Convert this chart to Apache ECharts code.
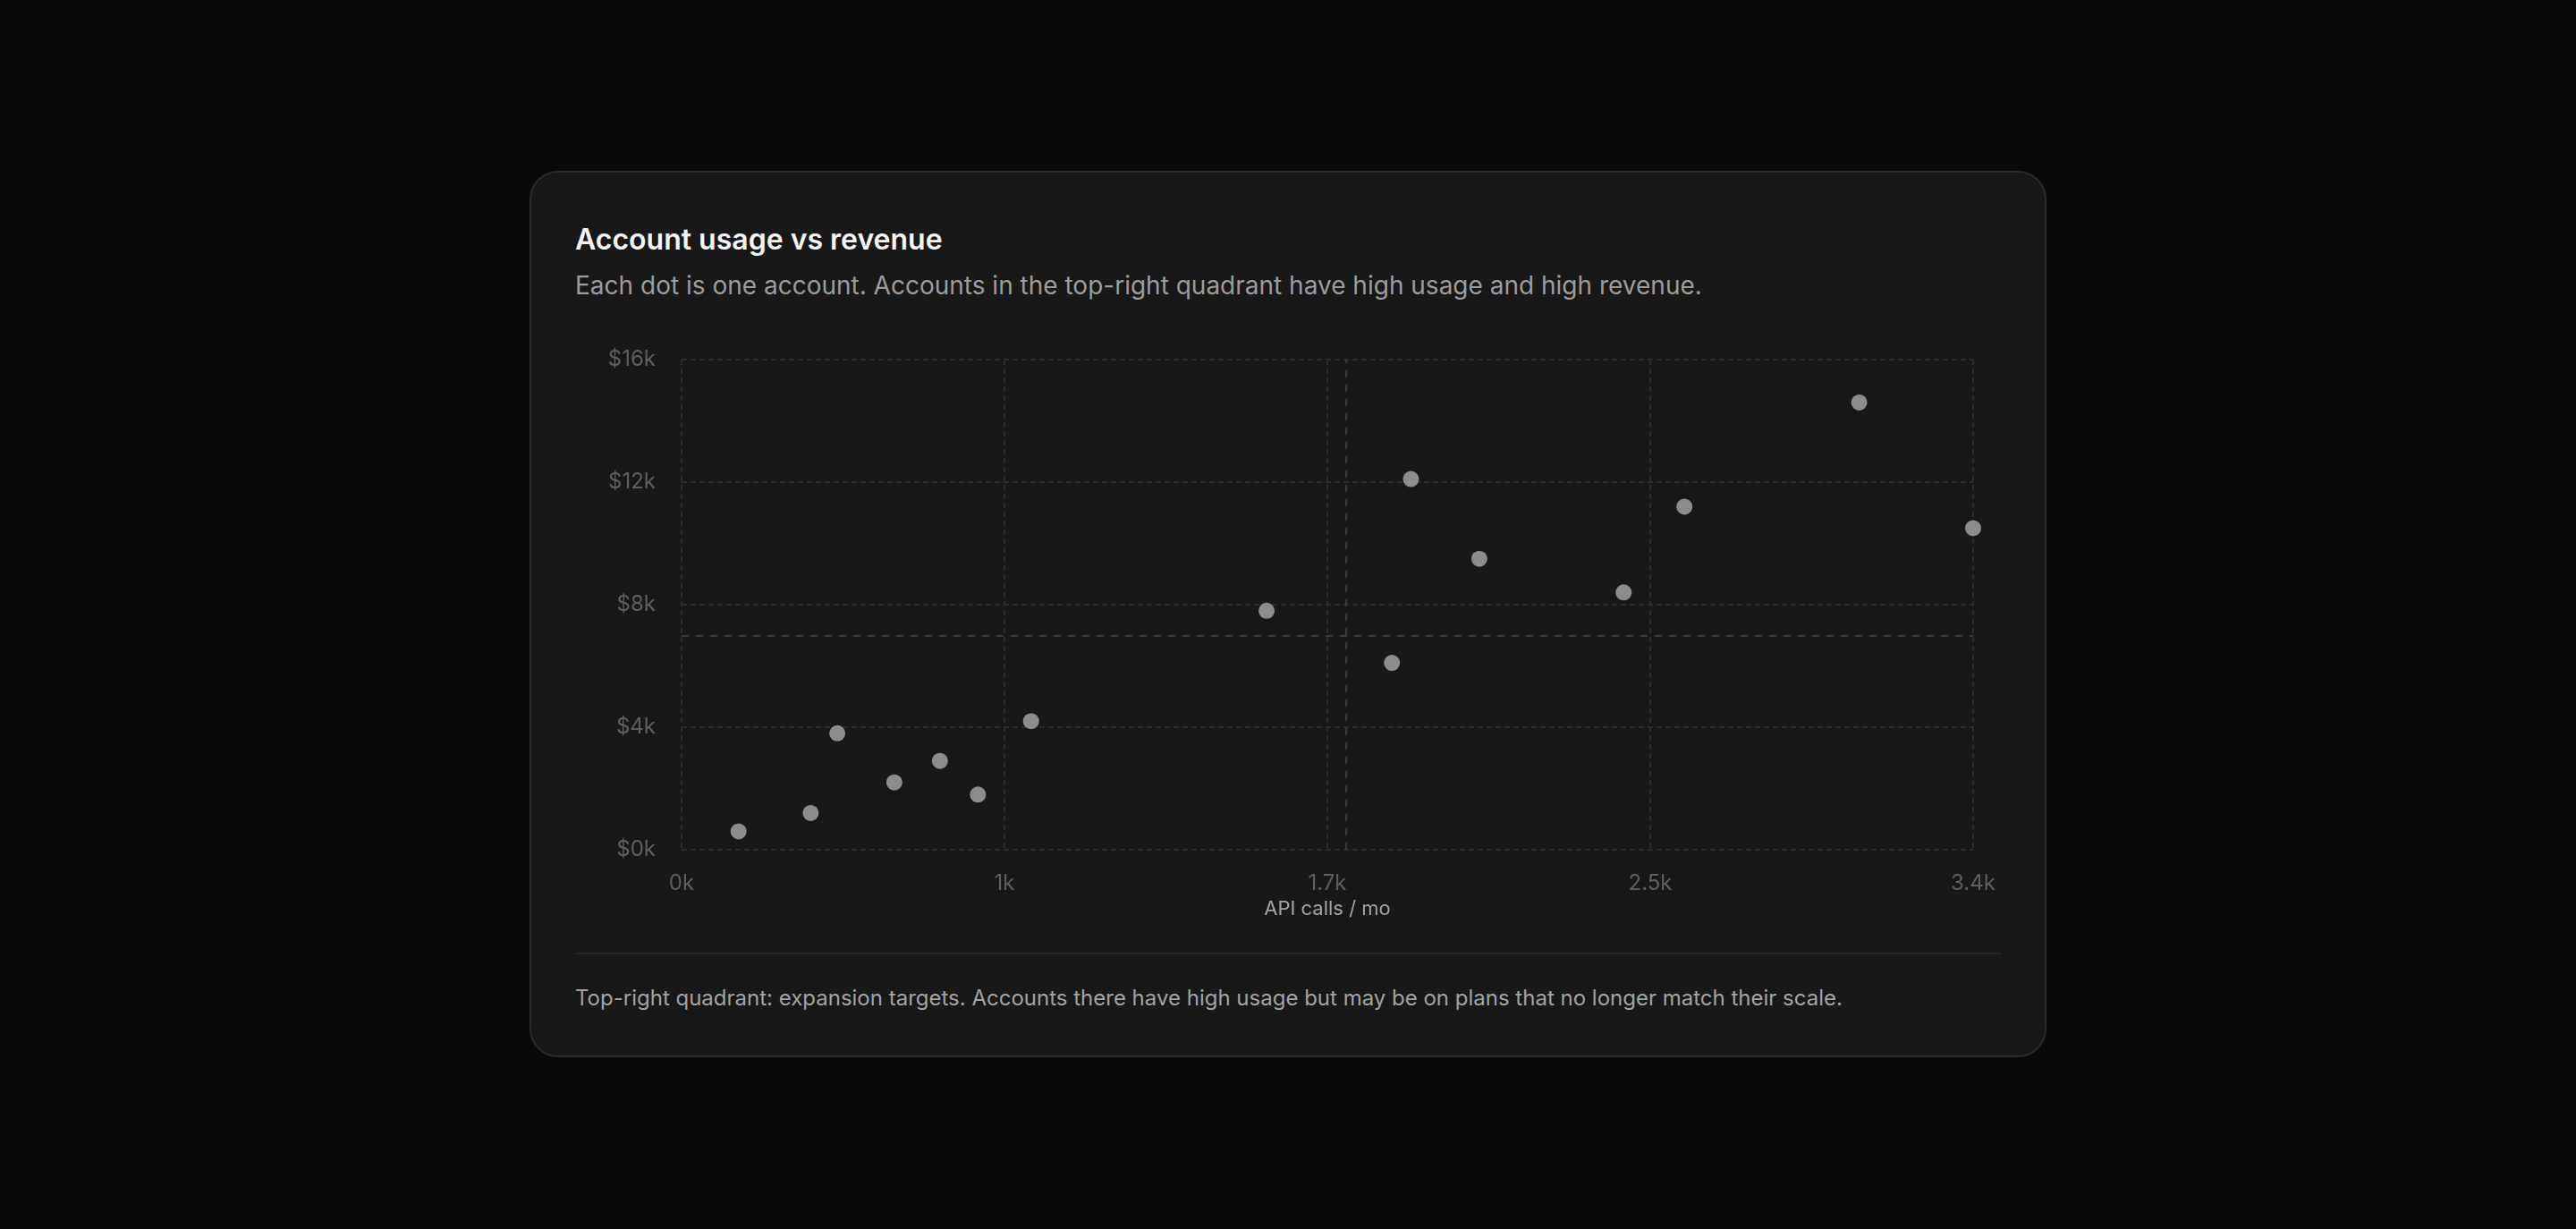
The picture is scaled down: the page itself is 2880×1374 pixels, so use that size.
<!DOCTYPE html>
<html lang="en">
<head>
    <meta charset="UTF-8">
    <title>Account usage vs revenue</title>
    <script type="text/javascript" src="https://cdn.jsdelivr.net/npm/echarts@6/dist/echarts.min.js"></script>
    <style>
        html, body { margin: 0; padding: 0; background: #0a0a0a; }
        body { width: 2880px; height: 1374px; position: relative; font-family: Inter, "Noto Sans", sans-serif; }
        .card {
            position: absolute; left: 592px; top: 191px; width: 1696px; height: 991px;
            box-sizing: border-box; border: 2px solid #2a2a2a; border-radius: 32px; background: #181818;
        }
        .title { position: absolute; left: 49px; top: 59px; font-size: 32px; line-height: 1; font-weight: 600; color: #f5f5f5; white-space: nowrap; }
        .sub { position: absolute; left: 49px; top: 112px; font-size: 28px; line-height: 1; color: #9c9c9c; white-space: nowrap; }
        #chart { position: absolute; left: 48px; top: 177px; width: 1596px; height: 670px; }
        .divider { position: absolute; left: 49px; top: 872px; width: 1595px; height: 2px; background: #262626; }
        .foot { position: absolute; left: 49px; top: 911px; font-size: 24px; line-height: 1; color: #a3a3a3; white-space: nowrap; }
    </style>
</head>
<body>
<div class="card">
    <div class="title">Account usage vs revenue</div>
    <div class="sub">Each dot is one account. Accounts in the top-right quadrant have high usage and high revenue.</div>
    <div id="chart"></div>
    <div class="divider"></div>
    <div class="foot">Top-right quadrant: expansion targets. Accounts there have high usage but may be on plans that no longer match their scale.</div>
</div>
<script type="text/javascript">
    // one entry per account
    var apiCalls = [150, 340, 410, 560, 680, 780, 920, 1540, 1870, 1920, 2100, 2480, 2640, 3100, 3400];
    var revenue  = [600, 1200, 3800, 2200, 2900, 1800, 4200, 7800, 6100, 12100, 9500, 8400, 11200, 14600, 10500];

    // axis ticks
    var xTicks = [0, 850, 1700, 2550, 3400];
    var xTickLabels = ['0k', '1k', '1.7k', '2.5k', '3.4k'];
    var yTicks = [0, 4000, 8000, 12000, 16000];
    var yTickLabels = ['$0k', '$4k', '$8k', '$12k', '$16k'];

    // quadrant split
    var splitX = 1750;
    var splitY = 7000;

    var points = [];
    for (var i = 0; i < apiCalls.length; i++) {
        points.push([apiCalls[i], revenue[i]]);
    }

    var chart = echarts.init(document.getElementById('chart'));
    chart.setOption({
        animation: false,
        grid: { left: 120, right: 32, top: 32, bottom: 90, containLabel: false },
        xAxis: {
            type: 'value', min: 0, max: 3400, interval: 850,
            name: 'API calls / mo', nameLocation: 'middle', nameGap: 43,
            nameTextStyle: { color: '#a3a3a3', fontSize: 22, fontFamily: 'Inter' },
            axisLine: { show: false }, axisTick: { show: false },
            axisLabel: {
                color: '#5e5e5e', fontSize: 24, fontFamily: 'Inter', margin: 26,
                formatter: function (v) { return xTickLabels[xTicks.indexOf(v)] || ''; }
            },
            splitLine: { show: true, lineStyle: { color: '#2c2c2c', width: 2, type: [6, 4] } }
        },
        yAxis: {
            type: 'value', min: 0, max: 16000, interval: 4000,
            axisLine: { show: false }, axisTick: { show: false },
            axisLabel: {
                color: '#5e5e5e', fontSize: 24, fontFamily: 'Inter', margin: 29,
                padding: [12, 0, 0, 0],
                formatter: function (v) { return yTickLabels[yTicks.indexOf(v)] || ''; }
            },
            splitLine: { show: true, lineStyle: { color: '#2c2c2c', width: 2, type: [6, 4] } }
        },
        series: [{
            type: 'scatter',
            data: points,
            symbolSize: 18,
            itemStyle: { color: '#aaaaaa' },
            markLine: {
                silent: true, symbol: 'none', label: { show: false },
                lineStyle: { color: '#393939', width: 2, type: [8, 8] },
                data: [{ xAxis: splitX }, { yAxis: splitY }]
            }
        }]
    });
</script>
</body>
</html>
